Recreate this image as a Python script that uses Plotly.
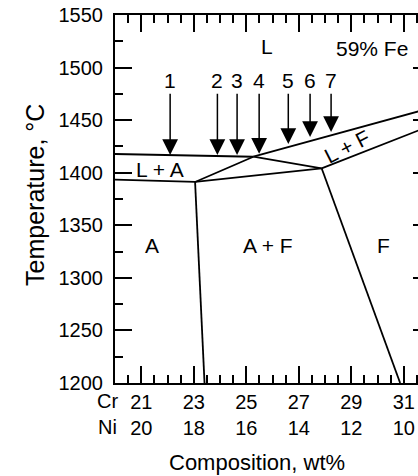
import plotly.graph_objects as go

# Isopleth at 59 wt% Fe through the Fe-Cr-Ni system
# Composition axis: Cr wt% (Ni = 41 - Cr)
CR_RANGE = [20.0, 31.54]
T_RANGE = [1200, 1550]
CR_TICKS = [21, 23, 25, 27, 29, 31]
NI_TICKS = [20, 18, 16, 14, 12, 10]

# Phase boundaries (Cr wt%, temperature in deg C)
liq_a_cr = [20.0, 25.27]
liq_a_t = [1417.8, 1415.2]
liq_f_cr = [25.27, 32.0]
liq_f_t = [1415.2, 1461.4]
sol_a_cr = [20.0, 23.05]
sol_a_t = [1393.5, 1391.2]
la_split_cr = [25.27, 23.05]
la_split_t = [1415.2, 1391.2]
peri_cr = [23.05, 27.87]
peri_t = [1391.2, 1404.2]
lf_split_cr = [25.27, 27.87]
lf_split_t = [1415.2, 1404.2]
sol_f_cr = [27.87, 32.0]
sol_f_t = [1404.2, 1444.5]
a_af_cr = [23.05, 23.41]
a_af_t = [1391.2, 1200.0]
af_f_cr = [27.87, 30.86]
af_f_t = [1404.2, 1200.0]

boundaries = [
    (liq_a_cr, liq_a_t), (liq_f_cr, liq_f_t), (sol_a_cr, sol_a_t),
    (la_split_cr, la_split_t), (peri_cr, peri_t), (lf_split_cr, lf_split_t),
    (sol_f_cr, sol_f_t), (a_af_cr, a_af_t), (af_f_cr, af_f_t),
]

# Alloy compositions marked with arrows (label, Cr wt%, arrow tip temperature)
alloy_labels = ["1", "2", "3", "4", "5", "6", "7"]
alloy_cr = [22.1, 23.9, 24.65, 25.49, 26.6, 27.43, 28.23]
alloy_tip_t = [1416.8, 1416.8, 1416.8, 1418.0, 1427.3, 1434.0, 1438.7]
alloy_label_t = 1487.5

# Phase field labels (text, Cr wt%, temperature, angle)
field_text = ["L", "59% Fe", "L + A", "L + F", "A", "A + F", "F"]
field_cr = [25.78, 29.77, 21.7, 28.84, 21.41, 25.83, 30.21]
field_t = [1520.5, 1517.7, 1402.6, 1425.4, 1331.2, 1331.2, 1331.2]
field_angle = [0, 0, 0, -27, 0, 0, 0]

FONT = "Liberation Sans, Arial, Helvetica, sans-serif"

fig = go.Figure()
for cr, t in boundaries:
    fig.add_trace(go.Scatter(x=cr, y=t, mode="lines",
                             line=dict(color="black", width=1.8),
                             hoverinfo="skip"))

# overlay axis carrying the short ticks along the right edge
fig.add_trace(go.Scatter(x=[], y=[], yaxis="y2", hoverinfo="skip"))

annotations = []
for lab, cr, tip in zip(alloy_labels, alloy_cr, alloy_tip_t):
    annotations.append(dict(
        x=cr, y=tip, xref="x", yref="y",
        ax=cr, ay=alloy_label_t, axref="x", ayref="y",
        text=lab, showarrow=True, arrowhead=2, arrowsize=2.1,
        arrowwidth=1.5, arrowcolor="black", standoff=0,
        font=dict(size=21, color="black", family=FONT),
    ))

for txt, cr, t, ang in zip(field_text, field_cr, field_t, field_angle):
    annotations.append(dict(
        x=cr, y=t, xref="x", yref="y", text=txt, showarrow=False,
        textangle=ang, font=dict(size=21, color="black", family=FONT),
    ))

# composition row names and axis titles
annotations.append(dict(
    x=-0.026, y=-0.083, xref="paper", yref="paper", text="Cr<br>Ni",
    showarrow=False, xanchor="center", yanchor="middle",
    font=dict(size=20, color="black", family=FONT),
))
annotations.append(dict(
    x=0.4686, y=-0.2147, xref="paper", yref="paper",
    text="Composition, wt%", showarrow=False,
    xanchor="center", yanchor="middle",
    font=dict(size=22, color="black", family=FONT),
))
annotations.append(dict(
    x=-0.264, y=0.511, xref="paper", yref="paper",
    text="Temperature, \u00b0C", showarrow=False, textangle=-90,
    xanchor="center", yanchor="middle",
    font=dict(size=25, color="black", family=FONT),
))

fig.update_layout(
    width=418, height=476,
    margin=dict(l=115, r=0, t=15, b=93),
    plot_bgcolor="white", paper_bgcolor="white",
    showlegend=False,
    font=dict(family=FONT, size=20, color="black"),
    annotations=annotations,
    xaxis=dict(
        range=CR_RANGE, tickmode="array", tickvals=CR_TICKS,
        ticktext=[f"{c}<br>{n}" for c, n in zip(CR_TICKS, NI_TICKS)],
        ticks="inside", ticklen=17, tickwidth=1.5, tickcolor="black",
        minor=dict(tick0=20, dtick=0.5, ticks="inside", ticklen=8,
                   tickwidth=1.5, tickcolor="black"),
        showline=True, linewidth=2, linecolor="black", mirror="ticks",
        showgrid=False, zeroline=False,
        tickfont=dict(size=20, color="black", family=FONT),
    ),
    yaxis=dict(
        range=T_RANGE, tick0=1200, dtick=50,
        ticks="inside", ticklen=17, tickwidth=1.5, tickcolor="black",
        minor=dict(tick0=1200, dtick=25, ticks="inside", ticklen=8,
                   tickwidth=1.5, tickcolor="black"),
        showline=True, linewidth=2, linecolor="black", mirror=False,
        showgrid=False, zeroline=False, ticklabelstandoff=6,
        tickfont=dict(size=20, color="black", family=FONT),
    ),
    yaxis2=dict(
        range=T_RANGE, tick0=1200, dtick=50, overlaying="y",
        anchor="free", position=1, side="right",
        ticks="inside", ticklen=5, tickwidth=1.5, tickcolor="black",
        showticklabels=False, showline=False, showgrid=False,
        zeroline=False,
    ),
)

fig.write_html("out.html")
